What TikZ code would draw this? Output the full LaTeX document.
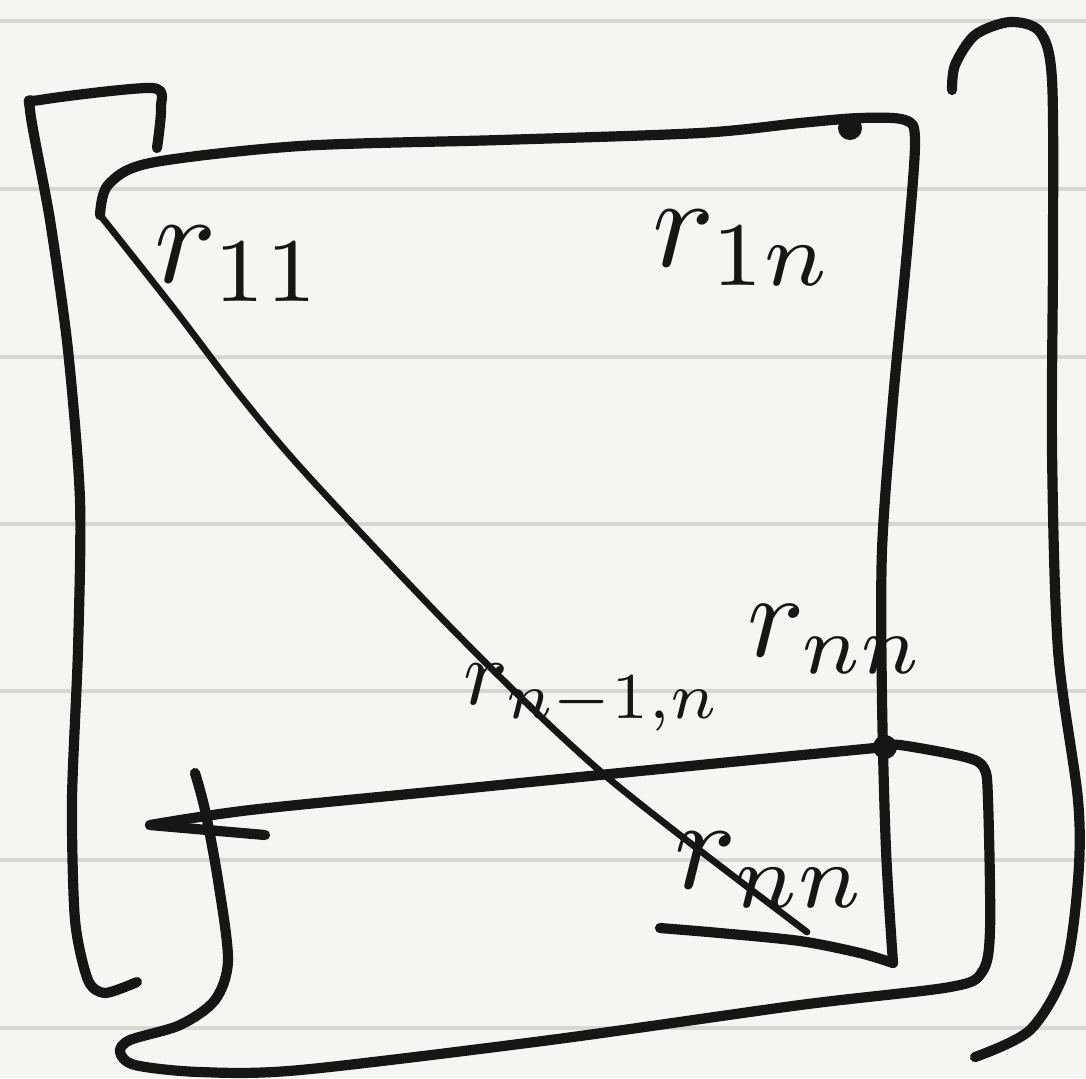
\documentclass[tikz,border=0pt]{standalone}
\usepackage{amsmath}
\usepackage{xcolor}
\usepackage{tikz}
\definecolor{paperColor}{HTML}{F5F6F1}
\definecolor{ruleColor}{HTML}{D6D7D1}
\definecolor{inkColor}{HTML}{161616}
\tikzset{
    ink/.style={inkColor, line width=2.9pt, line cap=round, line join=round},
    thinink/.style={inkColor, line width=1.9pt, line cap=round, line join=round},
    entry/.style={inkColor, inner sep=0pt, anchor=base west, scale=3.7}
}

\begin{document}
\begin{tikzpicture}[x=0.01cm, y=-0.01cm]
    % paper and rules
    \fill[paperColor] (0,0) rectangle (1086,1078);
    \useasboundingbox (0,0) rectangle (1086,1078);
    \foreach \yy in {21,189,357,524,691,860,1028}
        \draw[ruleColor, line width=1.1pt] (0,\yy) -- (1086,\yy);

    % left bracket
    \draw[ink] plot[smooth, tension=0.45] coordinates {(157,148) (161,108) (152,88) (40,100) (30,110)
        (50,220) (68,350) (80,500) (78,650) (72,800) (75,920) (88,980) (105,993) (137,982)};
    % upper triangle
    \draw[ink] plot[smooth, tension=0.5] coordinates {(100,215) (108,185) (150,163) (300,146) (500,140)
        (700,133) (800,123) (860,118) (905,120) (915,140) (908,240) (893,400) (882,550)
        (882,700) (886,850) (893,963)};
    \draw[ink] plot[smooth, tension=0.5] coordinates {(893,963) (860,953) (800,941) (720,933) (660,928)};
    \fill[inkColor] (850,128) circle (12);
    % diagonal
    \draw[thinink] plot[smooth] coordinates {(100,215) (175,310) (242,398) (310,478) (463,640)
        (607,777) (807,932)};
    % lower block
    \draw[ink] plot[smooth, tension=0.5] coordinates {(885,747) (700,765) (450,790) (250,810) (150,825)};
    \draw[ink] (150,825) -- (265,835);
    \fill[inkColor] (885,747) circle (12);
    \draw[ink] plot[smooth, tension=0.5] coordinates {(195,773) (205,810) (218,880) (228,960)
        (215,1000) (180,1025) (130,1040) (120,1052) (135,1065) (200,1072) (300,1070) (550,1040)
        (800,1005) (950,987) (982,972) (990,930) (988,800) (984,768) (965,757) (900,745) (885,747)};
    % right bracket
    \draw[ink] plot[smooth, tension=0.5] coordinates {(952,90) (955,65) (975,35) (1010,22) (1040,32)
        (1052,80) (1053,250) (1052,450) (1058,650) (1078,800) (1078,880) (1065,970) (1030,1030) (975,1057)};

    % entries
    \node[entry] (l11) at (152,282) {$r_{11}$};
    \node[entry] (l1n) at (650,266) {$r_{1n}$};
    \node[entry, scale=0.72] (lnm1n) at (462,704) {$r_{n-1,n}$};
    \node[entry, scale=0.92] (lnn) at (745,656) {$r_{nn}$};
    \node[entry] (lnnlow) at (672,888) {$r_{nn}$};
\end{tikzpicture}
\end{document}
